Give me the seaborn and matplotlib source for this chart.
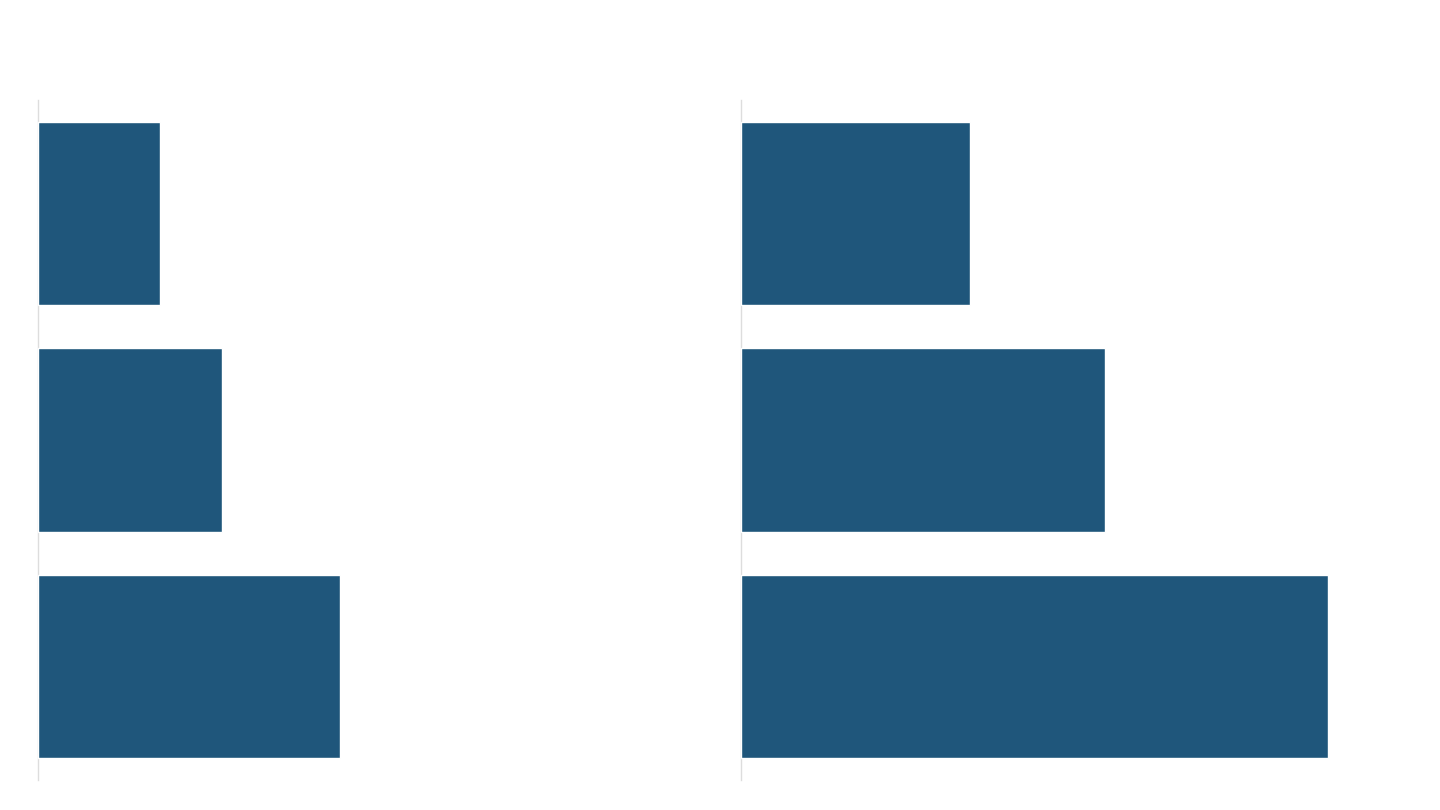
import seaborn as sns
import matplotlib
matplotlib.use('Agg')
import matplotlib.pyplot as plt
import pandas as pd

categories = ['A', 'B', 'C']
left_values = [17.9, 27.0, 44.3]
right_values = [33.6, 53.4, 86.1]

sns.set_theme(style='white')

fig = plt.figure(figsize=(14.4, 8.1), dpi=100)
ax1 = fig.add_axes([38 / 1440, 30 / 810, 682 / 1440, 680 / 810])
ax2 = fig.add_axes([741 / 1440, 30 / 810, 682 / 1440, 680 / 810])

for ax, vals in [(ax1, left_values), (ax2, right_values)]:
    df = pd.DataFrame({'cat': categories, 'val': vals})
    sns.barplot(data=df, x='val', y='cat', color='#1f567b', saturation=1,
                width=0.81, ax=ax)
    ax.set_xlim(0, 100)
    ax.set_ylim(2.5, -0.5)
    ax.set_xlabel('')
    ax.set_ylabel('')
    ax.set_xticks([])
    ax.set_yticks([])
    for s in ['top', 'right', 'bottom']:
        ax.spines[s].set_visible(False)
    ax.spines['left'].set_color('#dddddd')
    ax.spines['left'].set_linewidth(1)
    ax.spines['left'].set_zorder(0)

plt.savefig('out.png', dpi=100)
